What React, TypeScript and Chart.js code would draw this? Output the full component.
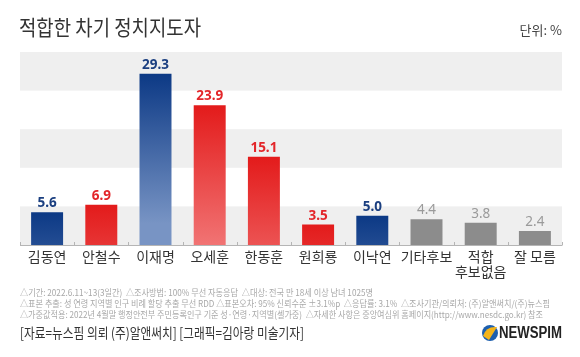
import React, { useEffect, useRef } from "react";
import { Chart, registerables } from "chart.js";

Chart.register(...registerables);

const categories: (string | string[])[] = ["김동연", "안철수", "이재명", "오세훈", "한동훈", "원희룡", "이낙연", "기타후보", ["적합", "후보없음"], "잘 모름"];
const values = [5.6, 6.9, 29.3, 23.9, 15.1, 3.5, 5.0, 4.4, 3.8, 2.4];
const parties = ["blue", "red", "blue", "red", "red", "red", "blue", "gray", "gray", "gray"];
const bandTicks = [0, 6.6, 13.2, 19.8, 26.4, 33];

const title = "적합한 차기 정치지도자";
const unitLabel = "단위: %";
const notes = [
  "△기간: 2022.6.11~13(3일간)  △조사방법: 100% 무선 자동응답  △대상: 전국 만 18세 이상 남녀 1025명",
  "△표본 추출: 성 연령 지역별 인구 비례 할당 추출 무선 RDD △표본오차: 95% 신뢰수준 ±3.1%p  △응답률: 3.1%  △조사기관/의뢰처: (주)알앤써치/(주)뉴스핌",
  "△가중값적용: 2022년 4월말 행정안전부 주민등록인구 기준 성·연령·지역별(셀가중)  △자세한 사항은 중앙여심위 홈페이지(http://www.nesdc.go.kr) 참조",
];
const noteWidths = [353, 530, 523];
const source = "[자료=뉴스핌 의뢰 (주)알앤써치] [그래픽=김아랑 미술기자]";

const KR = "'Noto Sans CJK KR', 'Noto Sans', sans-serif";

const gradStops: Record<string, [string, string]> = {
  blue: ["#0c3985", "#7894c4"],
  red: ["#e31b1b", "#f27a7a"],
  gray: ["#8c8c8c", "#8c8c8c"],
};
const labelColors: Record<string, string> = { blue: "#1b3f80", red: "#e3262a", gray: "#9a9a9a" };

export default function App() {
  const ref = useRef<HTMLCanvasElement>(null);
  useEffect(() => {
    const canvas = ref.current!;
    const bandPlugin = {
      id: "bands",
      beforeDatasetsDraw(chart: any) {
        const { ctx, chartArea } = chart;
        const y = chart.scales.y;
        ctx.save();
        for (let i = 0; i < bandTicks.length - 1; i++) {
          if (i % 2 === 0) {
            const y0 = y.getPixelForValue(bandTicks[i]);
            const y1 = y.getPixelForValue(bandTicks[i + 1]);
            ctx.fillStyle = "#efefef";
            ctx.fillRect(chartArea.left, y1, chartArea.right - chartArea.left, y0 - y1);
          }
        }
        const base = y.getPixelForValue(0);
        ctx.strokeStyle = "#b5b5b5";
        ctx.lineWidth = 1;
        ctx.beginPath();
        ctx.moveTo(chartArea.left, base + 0.5);
        ctx.lineTo(chartArea.right, base + 0.5);
        const step = (chartArea.right - chartArea.left) / categories.length;
        for (let i = 0; i <= categories.length; i++) {
          const x = Math.round(chartArea.left + i * step) + 0.5;
          ctx.moveTo(x, base - 3);
          ctx.lineTo(x, base + 0.5);
        }
        ctx.stroke();
        ctx.restore();
      },
    };
    const labelPlugin = {
      id: "labels",
      afterDatasetsDraw(chart: any) {
        const { ctx } = chart;
        const meta = chart.getDatasetMeta(0);
        ctx.save();
        ctx.textAlign = "center";
        ctx.textBaseline = "bottom";
        meta.data.forEach((bar: any, i: number) => {
          const p = parties[i];
          ctx.font = (p === "gray" ? "" : "bold ") + "13.5px 'Noto Sans', sans-serif";
          ctx.fillStyle = labelColors[p];
          ctx.fillText(values[i].toFixed(1), bar.x, bar.y - 2);
        });
        ctx.restore();
      },
    };
    const textPlugin = {
      id: "texts",
      afterDraw(chart: any) {
        const { ctx } = chart;
        ctx.save();
        ctx.textBaseline = "middle";
        ctx.textAlign = "left";
        ctx.fillStyle = "#333";
        ctx.font = "21px " + KR;
        ctx.fillText(title, 19, 27, 182);
        ctx.textAlign = "right";
        ctx.font = "13px " + KR;
        ctx.fillStyle = "#444";
        ctx.fillText(unitLabel, 562, 30);
        ctx.textAlign = "left";
        ctx.font = "9px " + KR;
        ctx.fillStyle = "#a8a8a8";
        notes.forEach((n, i) => ctx.fillText(n, 20, 293 + i * 11, noteWidths[i]));
        ctx.font = "14px " + KR;
        ctx.fillStyle = "#333";
        ctx.fillText(source, 20, 333, 284);
        ctx.beginPath();
        ctx.arc(490, 333, 8, 0, Math.PI * 2);
        ctx.fillStyle = "#1d5fae";
        ctx.fill();
        ctx.beginPath();
        ctx.moveTo(483, 336);
        ctx.quadraticCurveTo(486, 326, 497, 327);
        ctx.lineTo(489, 340);
        ctx.closePath();
        ctx.fillStyle = "#f4b41a";
        ctx.fill();
        ctx.font = "bold 16px 'Liberation Sans', Arial, sans-serif";
        ctx.fillStyle = "#222";
        ctx.fillText("NEWSPIM", 499, 334, 63);
        ctx.restore();
      },
    };
    const chart = new Chart(canvas, {
      type: "bar",
      data: {
        labels: categories as any,
        datasets: [
          {
            data: values,
            barPercentage: 0.59,
            categoryPercentage: 1,
            backgroundColor: (c: any) => {
              const chart = c.chart;
              const p = parties[c.dataIndex];
              if (!chart.chartArea || !chart.scales.y) return gradStops[p][0];
              const y = chart.scales.y;
              const top = y.getPixelForValue(values[c.dataIndex]);
              const g = chart.ctx.createLinearGradient(0, top, 0, top + 150);
              g.addColorStop(0, gradStops[p][0]);
              g.addColorStop(1, gradStops[p][1]);
              return g;
            },
          },
        ],
      },
      options: {
        animation: false,
        responsive: false,
        devicePixelRatio: 1,
        layout: { padding: { left: 20, right: 18, top: 52, bottom: 67 } },
        plugins: { legend: { display: false }, tooltip: { enabled: false } },
        scales: {
          x: {
            grid: { display: false, drawTicks: false },
            border: { display: false },
            ticks: {
              color: "#333",
              padding: 4,
              font: { family: KR, size: 14, lineHeight: 1.1 },
              maxRotation: 0,
              autoSkip: false,
            },
            afterFit: (axis: any) => {
              axis.height = 45;
            },
          },
          y: { display: false, min: 0, max: 33 },
        },
      },
      plugins: [bandPlugin, labelPlugin, textPlugin],
    });
    return () => chart.destroy();
  }, []);
  return (
    <div style={{ position: "fixed", left: 0, top: 0, width: 580, height: 357, background: "#fff" }}>
      <canvas ref={ref} width={580} height={357} style={{ width: 580, height: 357, display: "block" }} />
    </div>
  );
}
